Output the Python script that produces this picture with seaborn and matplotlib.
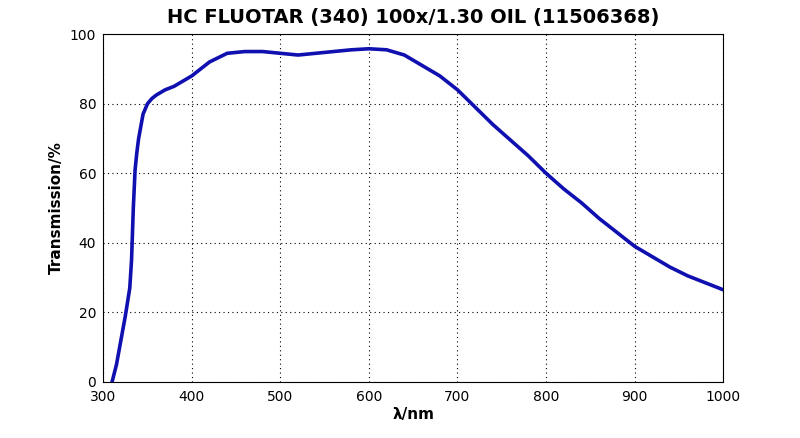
import matplotlib
matplotlib.use("Agg")
import matplotlib.pyplot as plt
import seaborn as sns
import pandas as pd

wavelength = [310, 315, 320, 325, 330, 332, 334, 336, 338, 340, 345, 350, 355, 360, 370, 380, 390, 400, 420, 440, 460, 480, 500, 520, 540, 560, 580, 600, 620, 640, 660, 680, 700, 720, 740, 760, 780, 800, 820, 840, 860, 880, 900, 920, 940, 960, 980, 1000]
transmission = [0, 5, 12, 19, 27, 35, 50, 61, 66, 70, 77, 80, 81.5, 82.5, 84, 85, 86.5, 88, 92, 94.5, 95, 95, 94.5, 94, 94.5, 95, 95.5, 95.8, 95.5, 94, 91, 88, 84, 79, 74, 69.5, 65, 60, 55.5, 51.5, 47, 43, 39, 36, 33, 30.5, 28.5, 26.5]

df = pd.DataFrame({"wl": wavelength, "t": transmission})
sns.set_style("white")
fig = plt.figure(figsize=(8, 4.38), dpi=100)
ax = fig.add_axes([0.129, 0.128, 0.775, 0.794])
sns.lineplot(data=df, x="wl", y="t", ax=ax, color="#1010b0", linewidth=2.6)
ax.set_xlim(300, 1000)
ax.set_ylim(0, 100)
ax.set_xticks(range(300, 1001, 100))
ax.set_yticks(range(0, 101, 20))
ax.grid(True, color="black", linestyle=(0, (1, 3)), linewidth=0.8)
for s in ax.spines.values():
    s.set_color("black"); s.set_linewidth(0.8)
ax.tick_params(labelsize=10, direction="in", length=3, colors="black")
ax.tick_params(axis="x", pad=6)
ax.tick_params(axis="y", pad=5)
ax.set_xlabel("λ/nm", fontsize=11, fontweight="bold", labelpad=2, color="black")
ax.set_ylabel("Transmission/%", fontsize=11, fontweight="bold", color="black")
ax.set_title("HC FLUOTAR (340) 100x/1.30 OIL (11506368)", fontsize=14, fontweight="bold", pad=8, color="black")
fig.savefig("out.png", dpi=100)
